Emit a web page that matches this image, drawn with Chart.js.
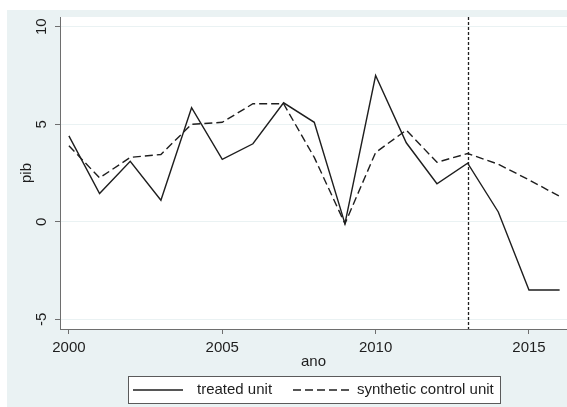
<!DOCTYPE html>
<html>
<head>
<meta charset="utf-8">
<script src="https://cdn.jsdelivr.net/npm/chart.js@4/dist/chart.umd.min.js"></script>
<style>
  html, body { margin: 0; padding: 0; background: #ffffff; }
  #wrap { width: 567px; height: 407px; }
</style>
</head>
<body>
<div id="wrap"><canvas id="c" width="567" height="407"></canvas></div>
<script>
// Annual values
const years = [2000, 2001, 2002, 2003, 2004, 2005, 2006, 2007, 2008, 2009, 2010, 2011, 2012, 2013, 2014, 2015, 2016];
const treatedUnit = [4.4, 1.45, 3.1, 1.1, 5.85, 3.2, 4.0, 6.1, 5.1, -0.1, 7.5, 4.05, 1.95, 3.0, 0.5, -3.5, -3.5];
const syntheticControl = [3.9, 2.25, 3.3, 3.45, 5.0, 5.1, 6.05, 6.05, 3.3, -0.1, 3.55, 4.7, 3.05, 3.5, 2.95, 2.15, 1.3];

// Axis ticks and the treatment year marker
const xTicks = [2000, 2005, 2010, 2015];
const yTicks = [-5, 0, 5, 10];
const treatmentYear = 2013;

const BG = '#eaf2f3';
const INK = '#1e1e1e';
const AXIS = '#6e6e6e';
const FONT = '"Liberation Sans", Arial, sans-serif';

const toPoints = vals => years.map((y, i) => ({ x: y, y: vals[i] }));

const decor = {
  id: 'decor',
  beforeDraw(chart) {
    const { ctx, chartArea: a } = chart;
    ctx.save();
    ctx.fillStyle = BG;
    ctx.fillRect(7, 10, chart.width - 7, chart.height - 10);
    ctx.fillStyle = '#ffffff';
    ctx.fillRect(a.left, a.top, a.right - a.left, a.bottom - a.top);
    ctx.restore();
  },
  afterDatasetsDraw(chart) {
    const { ctx, chartArea: a, scales } = chart;
    const x = Math.round(scales.x.getPixelForValue(treatmentYear)) + 0.5;
    ctx.save();
    ctx.strokeStyle = INK;
    ctx.lineWidth = 1.3;
    ctx.setLineDash([3, 2]);
    ctx.beginPath();
    ctx.moveTo(x, a.top);
    ctx.lineTo(x, a.bottom);
    ctx.stroke();
    ctx.restore();
  },
  afterDraw(chart) {
    const { ctx, chartArea: a, scales } = chart;
    ctx.save();
    ctx.fillStyle = INK;
    ctx.font = '15px ' + FONT;
    ctx.textAlign = 'center';
    ctx.textBaseline = 'middle';
    // rotated y tick labels
    yTicks.forEach(v => {
      const py = scales.y.getPixelForValue(v);
      ctx.save();
      ctx.translate(42, py);
      ctx.rotate(-Math.PI / 2);
      ctx.fillText(String(v), 0, 0);
      ctx.restore();
    });
    // axis titles
    ctx.save();
    ctx.translate(27, (a.top + a.bottom) / 2);
    ctx.rotate(-Math.PI / 2);
    ctx.fillText('pib', 0, 0);
    ctx.restore();
    ctx.fillText('ano', (a.left + a.right) / 2, 362);

    // legend
    const bx = 128, by = 376, bw = 372, bh = 27;
    ctx.fillStyle = '#ffffff';
    ctx.fillRect(bx, by, bw, bh);
    ctx.strokeStyle = '#5a5a5a';
    ctx.lineWidth = 1;
    ctx.strokeRect(bx + 0.5, by + 0.5, bw, bh);
    const cy = by + bh / 2 + 0.5;
    const ds = chart.data.datasets;
    const items = [{ x0: 133, x1: 183, tx: 197 }, { x0: 293, x1: 350, tx: 357 }];
    items.forEach((it, i) => {
      ctx.strokeStyle = ds[i].borderColor;
      ctx.lineWidth = ds[i].borderWidth;
      ctx.setLineDash(ds[i].borderDash || []);
      ctx.beginPath();
      ctx.moveTo(it.x0, cy);
      ctx.lineTo(it.x1, cy);
      ctx.stroke();
      ctx.setLineDash([]);
      ctx.fillStyle = INK;
      ctx.textAlign = 'left';
      ctx.fillText(ds[i].label, it.tx, cy);
    });
    ctx.restore();
  }
};

new Chart(document.getElementById('c'), {
  type: 'line',
  data: {
    datasets: [
      {
        label: 'treated unit',
        data: toPoints(treatedUnit),
        borderColor: INK,
        borderWidth: 1.4,
        pointRadius: 0,
        tension: 0,
        fill: false
      },
      {
        label: 'synthetic control unit',
        data: toPoints(syntheticControl),
        borderColor: INK,
        borderWidth: 1.4,
        borderDash: [8, 4],
        pointRadius: 0,
        tension: 0,
        fill: false
      }
    ]
  },
  options: {
    responsive: false,
    animation: false,
    events: [],
    layout: { padding: { left: 0, top: 17, right: 0, bottom: 0 } },
    plugins: { legend: { display: false }, tooltip: { enabled: false } },
    scales: {
      x: {
        type: 'linear',
        min: 1999.71,
        max: 2016.24,
        afterBuildTicks: s => { s.ticks = xTicks.map(v => ({ value: v })); },
        afterFit: s => { s.height = 78; },
        grid: { drawOnChartArea: false, drawTicks: true, tickLength: 5, tickColor: AXIS, lineWidth: 1 },
        border: { color: AXIS, width: 1 },
        ticks: { color: INK, font: { family: FONT, size: 15 }, padding: 5, maxRotation: 0, callback: v => String(v) }
      },
      y: {
        type: 'linear',
        min: -5.5,
        max: 10.5,
        afterBuildTicks: s => { s.ticks = yTicks.map(v => ({ value: v })); },
        afterFit: s => { s.width = 60; },
        grid: { color: BG, lineWidth: 1, drawTicks: true, tickLength: 5, tickColor: AXIS },
        border: { color: AXIS, width: 1 },
        ticks: { display: false }
      }
    }
  },
  plugins: [decor]
});
</script>
</body>
</html>
